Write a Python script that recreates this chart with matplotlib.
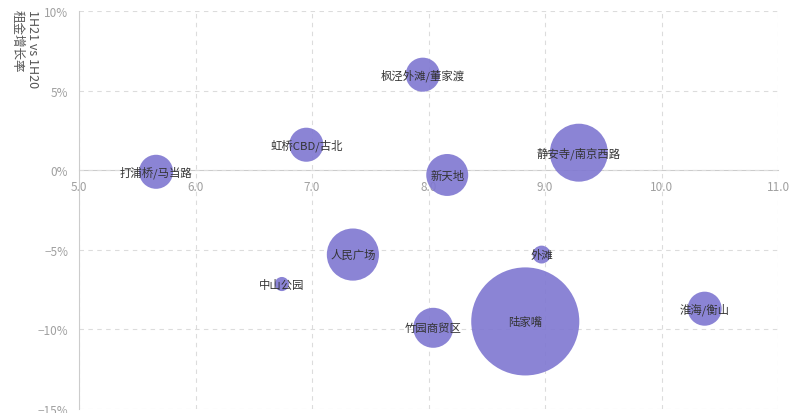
import matplotlib
matplotlib.use("Agg")
import matplotlib.pyplot as plt
from matplotlib.ticker import FuncFormatter

plt.rcParams['font.family'] = ['Noto Sans CJK SC', 'DejaVu Sans']

names = ["打浦桥/马当路", "虹桥CBD/古北", "枫泾外滩/董家渡", "新天地", "静安寺/南京西路",
         "人民广场", "中山公园", "外滩", "陆家嘴", "竹园商贸区", "淮海/衡山"]
rent = [5.66, 6.95, 7.95, 8.16, 9.29, 7.35, 6.74, 8.97, 8.83, 8.04, 10.37]
growth = [-0.1, 1.6, 6.0, -0.3, 1.1, -5.3, -7.15, -5.3, -9.5, -9.9, -8.7]
stock = [29, 29, 29, 44, 84, 68, 5, 8, 292, 40, 29]

xticks = [5.0, 6.0, 7.0, 8.0, 9.0, 10.0, 11.0]
yticks = [-15, -10, -5, 0, 5, 10]

fig = plt.figure(figsize=(8, 4.14), dpi=100)
ax = fig.add_axes([0.099, 0.0097, 0.8735, 0.9613])
ax.set_xlim(5.0, 11.0)
ax.set_ylim(-15, 10)

sizes = [(2 * (s * 10) ** 0.5 * 0.72) ** 2 for s in stock]
ax.scatter(rent, growth, s=sizes, color='#7f77d1', alpha=0.9, edgecolors='none', zorder=3)

for n, x, y in zip(names, rent, growth):
    ax.text(x, y, n, ha='center', va='center', fontsize=8.2, color='#333333', zorder=4)

ax.set_xticks(xticks)
ax.set_yticks(yticks)
ax.xaxis.set_major_formatter(FuncFormatter(lambda v, p: f"{v:.1f}"))
ax.yaxis.set_major_formatter(FuncFormatter(lambda v, p: f"{int(v)}%".replace("-", "\u2212")))
ax.grid(True, linestyle=(0, (4, 4)), color='#dcdcdc', linewidth=0.8, zorder=0)

for side in ['top', 'right']:
    ax.spines[side].set_visible(False)
ax.spines['bottom'].set_position(('data', 0))
ax.spines['bottom'].set_color('#cccccc')
ax.spines['left'].set_color('#cccccc')
ax.spines['bottom'].set_zorder(1)
ax.tick_params(axis='both', length=0, labelsize=8.5, colors='#a0a0a0', pad=7)
ax.tick_params(axis='y', pad=8)

fig.text(0.031, 0.976, "1H21 vs 1H20\n租金增长率", rotation=-90, ha='center', va='top',
         fontsize=9, color='#555555', multialignment='left')

fig.savefig("out.png", dpi=100)
